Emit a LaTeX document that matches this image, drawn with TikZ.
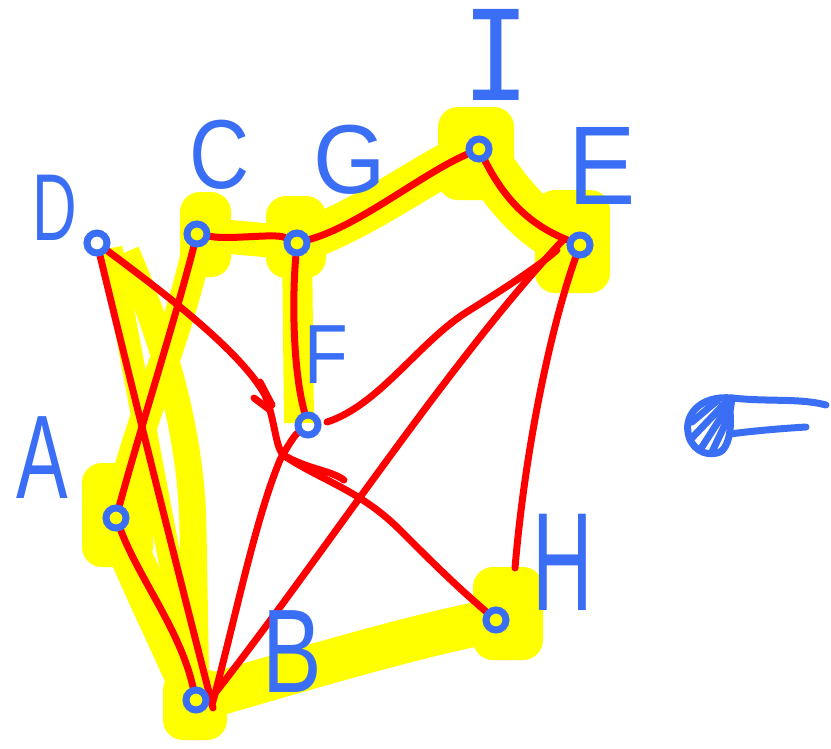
\documentclass[tikz,border=0pt]{standalone}
\usepackage{fontspec}
\setmainfont{Liberation Sans}
\newfontfamily\monofam{DejaVu Sans Mono}
\definecolor{penblue}{RGB}{58,110,245}
\definecolor{hiyel}{RGB}{255,255,0}
\definecolor{penred}{RGB}{255,0,0}
\pgfdeclarelayer{yel}
\pgfdeclarelayer{redlay}
\pgfsetlayers{yel,redlay,main}
\tikzset{
  dot/.style={circle,draw=penblue,line width=7pt,minimum size=20pt,inner sep=0pt},
  lbl/.style={text=penblue,inner sep=0pt},
  hl/.style={draw=hiyel,line width=38pt,line cap=round,line join=round},
  blob/.style={fill=hiyel,rounded corners=20pt},
  edge/.style={draw=penred,line width=7pt,line cap=round,line join=round},
  pen/.style={draw=penblue,line width=7pt,line cap=round,line join=round},
}
\begin{document}
\begin{tikzpicture}[x=1pt,y=-1pt]
\useasboundingbox (0,0) rectangle (831,748);
% dots
\node[dot] (D) at (97,243) {};
\node[dot] (C) at (197,234) {};
\node[dot] (G) at (297,243) {};
\node[dot] (I) at (479,149) {};
\node[dot] (E) at (580,245) {};
\node[dot] (F) at (308,425) {};
\node[dot] (A) at (116,518) {};
\node[dot] (B) at (196,700) {};
\node[dot] (H) at (496,620) {};
% labels
\node[lbl,font=\fontsize{95}{95}\selectfont] (labD) at (55,208) {\scalebox{0.65}[1]{D}};
\node[lbl,font=\fontsize{98}{98}\selectfont] (labC) at (220,155) {\scalebox{0.85}[1]{C}};
\node[lbl,font=\fontsize{98}{98}\selectfont] (labG) at (350,160) {\scalebox{0.95}[1]{G}};
\node[lbl,font=\fontsize{125}{125}\monofam] (labI) at (496,55) {\scalebox{0.9}[1]{I}};
\node[lbl,font=\fontsize{112}{112}\selectfont] (labE) at (602,166) {\scalebox{0.9}[1]{E}};
\node[lbl,font=\fontsize{84}{84}\selectfont] (labF) at (326,355) {\scalebox{0.85}[1]{F}};
\node[lbl,font=\fontsize{119}{119}\selectfont] (labA) at (42,458) {\scalebox{0.65}[1]{A}};
\node[lbl,font=\fontsize{119}{119}\selectfont] (labB) at (292,652) {\scalebox{0.75}[1]{B}};
\node[lbl,font=\fontsize{140}{140}\selectfont] (labH) at (563,562) {\scalebox{0.6}[1]{H}};
% symbol at right
\coordinate (sym) at (708,428);
\coordinate (s1) at (732,398);
\coordinate (s2) at (826,405);
\coordinate (s3) at (730,434);
\coordinate (s4) at (806,427);
\draw[pen] (s1) .. controls (700,395) and (685,415) .. (688,432) .. controls (690,448) and (705,458) .. (720,452) .. controls (728,448) and (732,430) .. (730,412) -- (s1);
\draw[pen] (s1) .. controls (770,402) and (800,398) .. (s2);
\draw[pen] (s3) .. controls (760,430) and (790,428) .. (s4);
\draw[pen] (690,440) -- (728,400) (700,450) -- (729,405) (712,452) -- (730,414) (692,422) -- (718,400);
% yellow highlights
\begin{pgfonlayer}{yel}
\fill[blob] (180,192) rectangle (231,277);
\fill[blob] (266,196) rectangle (326,278);
\fill[blob] (438,107) rectangle (514,200);
\fill[blob] (535,190) rectangle (610,293);
\fill[blob] (82,463) rectangle (153,567);
\fill[blob] (163,670) rectangle (227,740);
\fill[blob] (473,567) rectangle (543,660);
\draw[hl,line width=34pt] (C) -- (G);
\draw[hl,line width=30pt,line cap=butt] (G) -- (299,423);
\draw[hl,line width=42pt] (G) .. controls (370,215) and (430,170) .. (I);
\draw[hl,line width=50pt] (I) .. controls (510,200) and (540,230) .. (E);
\draw[hl,line width=30pt] (C.south) .. controls (180,330) and (140,420) .. (A);
\draw[hl,line width=23pt,line cap=butt] (111,248) -- (B);
\draw[hl,line width=27pt,line cap=butt] (126,252) .. controls (160,330) and (192,430) .. (193,530) -- (B);
\draw[hl,line width=42pt] (A) .. controls (140,580) and (170,640) .. (B);
\draw[hl,line width=44pt] (B) .. controls (300,670) and (400,640) .. (H);
\end{pgfonlayer}
% red connectors
\begin{pgfonlayer}{redlay}
\draw[edge] (C) .. controls (230,240) and (275,233) .. (G);
\draw[edge] (G) .. controls (360,225) and (420,175) .. (I);
\draw[edge] (I) .. controls (505,200) and (530,225) .. (E);
\draw[edge] (G) .. controls (292,300) and (293,370) .. (F);
\draw[edge] (D) .. controls (130,380) and (175,560) .. (213,708);
\draw[edge] (C) .. controls (175,320) and (140,430) .. (A);
\draw[edge] (A) .. controls (140,580) and (180,630) .. (B);
\draw[edge] (D) .. controls (160,290) and (240,350) .. (265,395) .. controls (275,420) and (275,445) .. (283,455) .. controls (320,480) and (360,490) .. (400,530) .. controls (430,560) and (455,585) .. (H);
\draw[edge] (283,455) .. controls (310,470) and (330,470) .. (344,480);
\draw[edge] (260,382) -- (272,405);
\draw[edge] (254,398) -- (270,410);
\draw[edge] (212,705) .. controls (235,620) and (255,520) .. (280,460) .. controls (288,445) and (295,435) .. (F);
\draw[edge] (212,697) .. controls (320,560) and (450,360) .. (563,240);
\draw[edge] (327,422) .. controls (380,405) and (420,340) .. (470,310) .. controls (510,285) and (540,265) .. (557,250);
\draw[edge] (E) .. controls (550,330) and (525,450) .. (515,568);
\end{pgfonlayer}
\end{tikzpicture}
\end{document}
